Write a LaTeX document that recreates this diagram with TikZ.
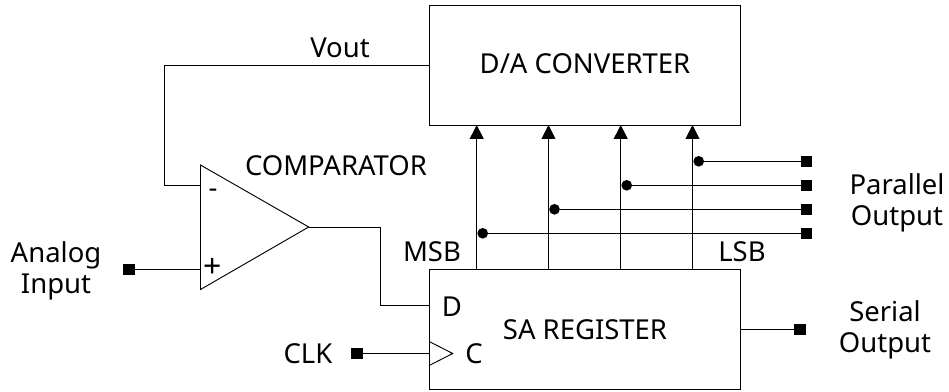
\documentclass[tikz,border=0pt]{standalone}
\usepackage{fontspec}
\setmainfont{Noto Sans}
\usetikzlibrary{arrows.meta}
\tikzset{
  wire/.style={draw=black,line width=0.7pt},
  blockbox/.style={draw=black,line width=0.7pt,fill=white,inner sep=0pt,outer sep=0pt,minimum width=233.25pt,minimum height=90pt},
  lbl/.style={font=\fontsize{20.6pt}{23pt}\selectfont,inner sep=0pt,align=center},
  term/.style={fill=black,minimum size=8.5pt,inner sep=0pt,outer sep=0pt},
  dotn/.style={circle,fill=black,minimum size=8pt,inner sep=0pt,outer sep=0pt},
  arr/.style={wire,-{Triangle[length=10.5pt,width=10.5pt]}}
}
\begin{document}
\begin{tikzpicture}[x=0.75pt,y=-0.75pt]
\useasboundingbox (0,0) rectangle (949,392);
\node[blockbox] (dac) at (584.7,65) {};
\node[blockbox] (sar) at (584.7,329.5) {};
\coordinate (a) at (200.5,165);
\coordinate (b) at (200.5,289.5);
\coordinate (c) at (308.7,227);
\draw[wire] (a) -- (b) -- (c) -- cycle;
\node[lbl] (tDac) at (585,64) {D/A CONVERTER};
\node[lbl] (tSar) at (585,330) {SA REGISTER};
\node[lbl] (tCmp) at (336,166) {COMPARATOR};
\node[lbl] (tVout) at (340,48) {Vout};
\node[lbl] (tMsb) at (432,252) {MSB};
\node[lbl] (tLsb) at (742,252) {LSB};
\node[lbl] (tAna) at (56,271) {Analog\\Input};
\node[lbl] (tClkL) at (308,354) {CLK};
\node[lbl] (tD) at (452,307) {D};
\node[lbl] (tC) at (474,354) {C};
\node[lbl] (tPar) at (897,203) {Parallel\\Output};
\node[lbl] (tSerL) at (885,330) {Serial\\Output};
\node[lbl] (tMinus) at (213,193) {-};
\node[lbl,font=\fontsize{24pt}{26pt}\selectfont] (tPlus) at (213,268) {+};
\node[term] (tIn) at (129,269.5) {};
\node[term] (tClk) at (357,353.5) {};
\node[term] (tSer) at (800,329.5) {};
\node[term] (p1) at (806.5,161.3) {};
\node[term] (p2) at (806.5,185.3) {};
\node[term] (p3) at (806.5,209.3) {};
\node[term] (p4) at (806.5,233.3) {};
\node[dotn] (d1) at (698.7,161.3) {};
\node[dotn] (d2) at (626.7,185.3) {};
\node[dotn] (d3) at (554.5,209.3) {};
\node[dotn] (d4) at (482.7,233.3) {};
\coordinate (b1) at (476.7,200);
\coordinate (b2) at (548.5,200);
\coordinate (b3) at (620.7,200);
\coordinate (b4) at (692.5,200);
\coordinate (fbA) at (164.3,65);
\coordinate (fbB) at (164.3,185);
\coordinate (outA) at (380.7,227);
\coordinate (outB) at (380.7,305);
\coordinate (ckA) at (452.7,353.5);
\draw[wire] (tIn) -- (tIn -| a);
\draw[wire] (tClk) -- (tClk -| sar.west);
\draw[wire] (tSer -| sar.east) -- (tSer);
\draw[wire] (d1) -- (p1);
\draw[wire] (d2) -- (p2);
\draw[wire] (d3) -- (p3);
\draw[wire] (d4) -- (p4);
\draw[wire] (dac.west) -- (fbA) -- (fbB) -- (fbB -| a);
\draw[wire] (c) -- (outA) -- (outB) -- (outB -| sar.west);
\draw[wire] ([yshift=9pt]ckA -| sar.west) -- (ckA) -- ([yshift=-9pt]ckA -| sar.west);
\draw[arr] (b1 |- sar.north) -- (b1 |- dac.south);
\draw[arr] (b2 |- sar.north) -- (b2 |- dac.south);
\draw[arr] (b3 |- sar.north) -- (b3 |- dac.south);
\draw[arr] (b4 |- sar.north) -- (b4 |- dac.south);
\end{tikzpicture}
\end{document}
